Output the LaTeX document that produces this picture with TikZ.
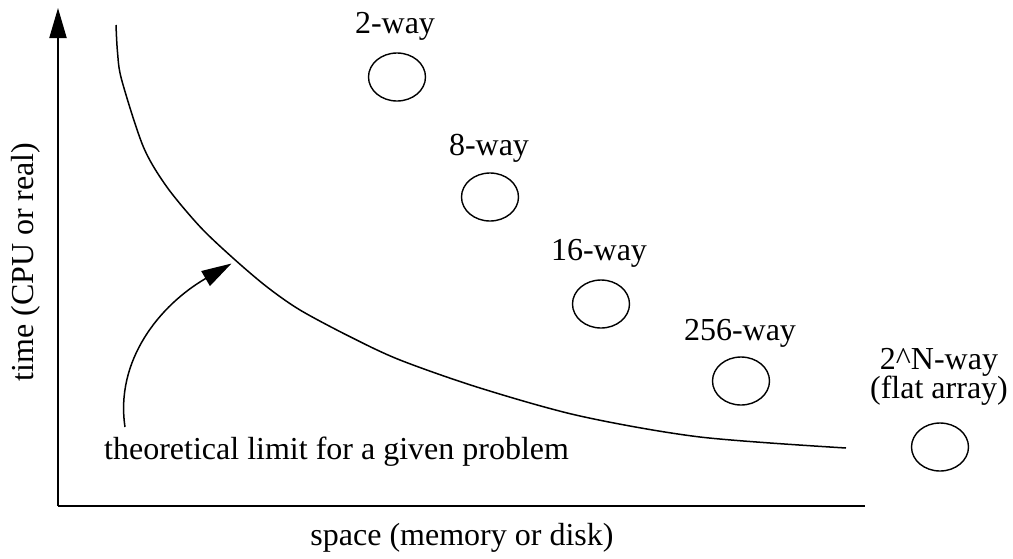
\documentclass[tikz,border=0pt]{standalone}
\usepackage{fontspec}
\setmainfont{Liberation Serif}
\usetikzlibrary{arrows.meta,shapes.geometric}
\begin{document}
\begin{tikzpicture}[x=1pt,y=-1pt,
  label text/.style={font=\fontsize{32}{30}\selectfont, inner sep=0pt, anchor=base},
  way/.style={draw, ellipse, line width=1.4pt, minimum width=57pt, minimum height=48pt, inner sep=0pt},
  head/.style={-{Triangle[length=30pt,width=17pt]}},
  axis/.style={line width=2pt, head},
  limit/.style={line width=1.5pt}]
  \useasboundingbox (0,0) rectangle (1013,558);

  % axes
  \coordinate (origin) at (58,506);
  \coordinate (ytop) at (58,8);
  \coordinate (xend) at (865,506);
  \draw[axis] (origin) -- (ytop);
  \draw[line width=2pt] (origin) -- (xend);

  % axis titles
  \node[label text, rotate=90] (ylab) at (33,262) {time (CPU or real)};
  \node[label text] (xlab) at (462,545) {space (memory or disk)};

  % lower bound curve
  \draw[limit] plot[smooth, tension=0.5] coordinates {
    (116,25) (117.5,52) (121.7,80) (143.3,146.7) (166.7,186.7) (200,226.7)
    (233.3,258.3) (266.7,286.7) (300,310) (350,336.7) (400,360)
    (480,388) (580,416) (700,437) (846,448)};

  % annotation of the curve
  \node[label text, anchor=base west] (note) at (104,459) {theoretical limit for a given problem};
  \coordinate (nstart) at (125,427);
  \coordinate (ntip) at (231.5,263.5);
  \draw[line width=1.5pt, head]
    (nstart) .. controls (115,360) and (160,305) .. (ntip);

  % design points
  \node[way] (w2)   at (397,77)  {};
  \node[way] (w8)   at (490,197) {};
  \node[way] (w16)  at (601,304) {};
  \node[way] (w256) at (741,381) {};
  \node[way] (wN)   at (940,447) {};

  \node[label text] (l2)   at (395,33)  {2-way};
  \node[label text] (l8)   at (489,155) {8-way};
  \node[label text] (l16)  at (599,260) {16-way};
  \node[label text] (l256) at (740,340) {256-way};
  \node[label text] (lN)   at (939,369) {2\textasciicircum N-way};
  \node[label text] (lNb)  at (939,398) {(flat array)};
\end{tikzpicture}
\end{document}
